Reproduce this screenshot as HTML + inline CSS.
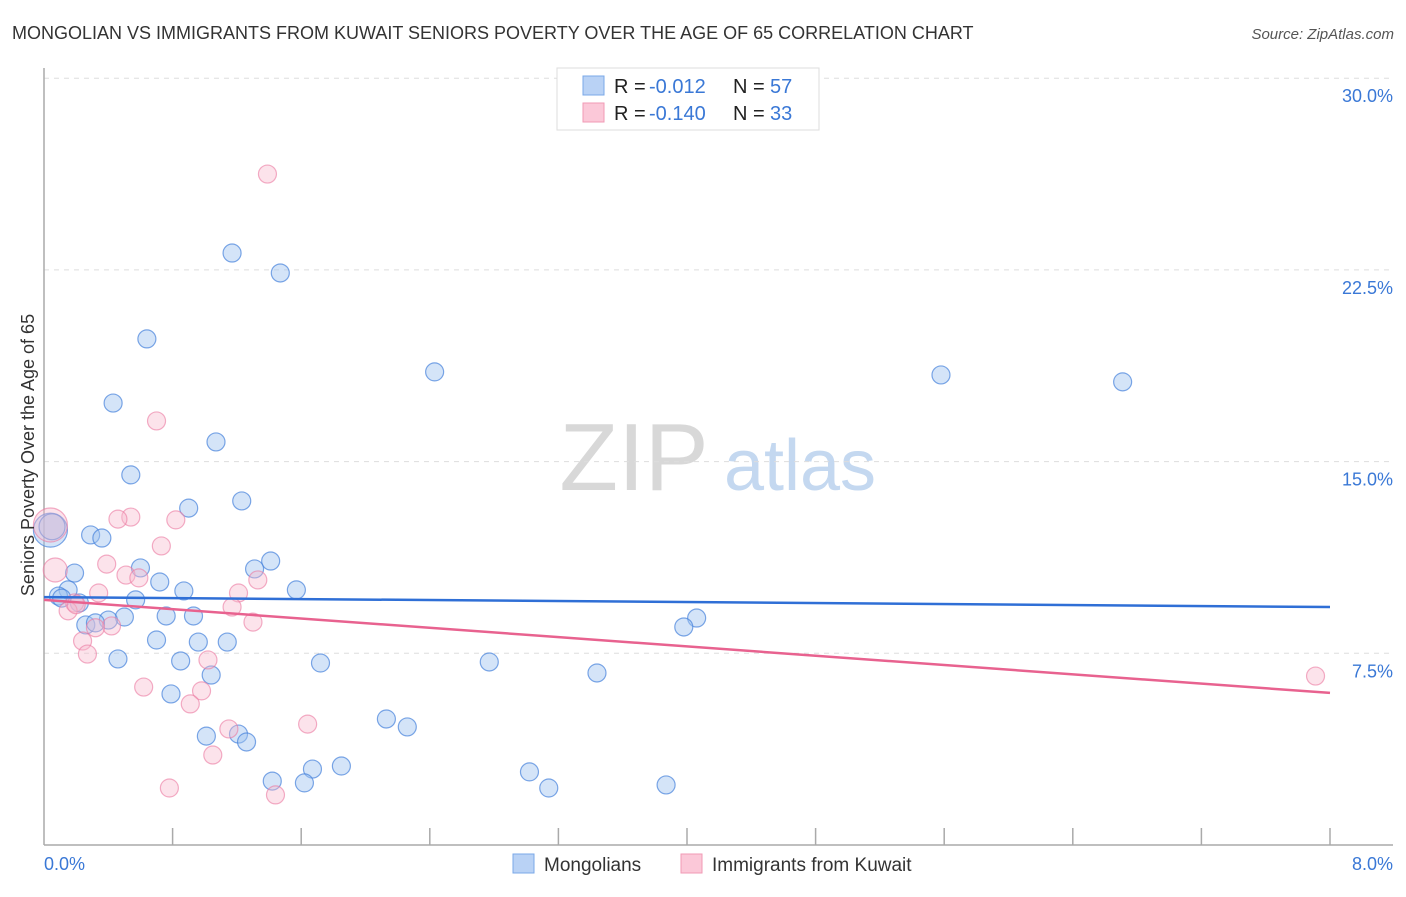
<!DOCTYPE html>
<html><head><meta charset="utf-8"><style>
body{margin:0;background:#fff;font-family:"Liberation Sans",sans-serif;}
svg text{font-family:"Liberation Sans",sans-serif;}
</style></head><body>
<svg id="chart" width="1406" height="892">
<text x="12" y="39" font-size="18" fill="#333">MONGOLIAN VS IMMIGRANTS FROM KUWAIT SENIORS POVERTY OVER THE AGE OF 65 CORRELATION CHART</text>
<text x="1394" y="39" font-size="15" fill="#555" font-style="italic" text-anchor="end">Source: ZipAtlas.com</text>
<g>
<text x="634" y="490" font-size="96" fill="#d8d8d8" text-anchor="middle" font-family="Liberation Serif">ZIP</text>
<text x="800" y="490" font-size="72" fill="#c4d8f0" text-anchor="middle">atlas</text>
</g>
<g id="grid"></g>
<g id="axes"></g>
<g id="marks"></g>
<g>
<rect x="557" y="68" width="262" height="62" fill="#fff" stroke="#ddd"/>
<rect x="583" y="76" width="21" height="19" fill="#b9d2f5" stroke="#7aa8e8"/>
<text x="614" y="93" font-size="20" fill="#222">R = </text><text x="649" y="93" font-size="20" fill="#3a78d6">-0.012</text>
<text x="733" y="93" font-size="20" fill="#222">N = </text><text x="770" y="93" font-size="20" fill="#3a78d6">57</text>
<rect x="583" y="103" width="21" height="19" fill="#fbc8d8" stroke="#f09ab5"/>
<text x="614" y="120" font-size="20" fill="#222">R = </text><text x="649" y="120" font-size="20" fill="#3a78d6">-0.140</text>
<text x="733" y="120" font-size="20" fill="#222">N = </text><text x="770" y="120" font-size="20" fill="#3a78d6">33</text>
</g>
<text transform="translate(34,455) rotate(-90)" font-size="18" fill="#333" text-anchor="middle">Seniors Poverty Over the Age of 65</text>
<text x="44" y="870" font-size="18" fill="#3a78d6">0.0%</text>
<text x="1393" y="870" font-size="18" fill="#3a78d6" text-anchor="end">8.0%</text>
<g>
<rect x="513" y="854" width="21" height="19" fill="#b9d2f5" stroke="#7aa8e8"/>
<text x="544" y="871" font-size="19" fill="#333">Mongolians</text>
<rect x="681" y="854" width="21" height="19" fill="#fbc8d8" stroke="#f09ab5"/>
<text x="712" y="871" font-size="19" fill="#333">Immigrants from Kuwait</text>
</g>
</svg>
<script>
const yTicks=[7.5,15,22.5,30];
const yTickLabels=["7.5%","15.0%","22.5%","30.0%"];
const xTicks=[0.8,1.6,2.4,3.2,4.0,4.8,5.6,6.4,7.2,8.0];
const blueX=[1.17,1.47,0.64,2.43,5.58,6.71,0.43,1.07,0.54,1.23,0.90,0.29,0.36,1.41,0.60,1.31,0.19,0.72,1.57,0.87,0.15,0.09,0.57,0.22,0.50,0.40,0.93,0.76,0.26,0.32,4.06,3.98,0.70,0.96,1.14,0.46,0.85,1.72,2.77,1.04,3.44,0.79,2.13,2.26,1.01,1.21,1.26,3.02,1.67,1.85,1.42,1.62,3.14,3.87,0.04,0.11,0.05];
const blueY=[23.16,22.38,19.80,18.51,18.39,18.12,17.29,15.77,14.48,13.46,13.18,12.13,12.01,11.11,10.84,10.80,10.64,10.29,9.98,9.94,9.98,9.74,9.59,9.47,8.92,8.80,8.96,8.96,8.61,8.69,8.88,8.53,8.02,7.94,7.94,7.28,7.20,7.12,7.16,6.65,6.73,5.91,4.93,4.62,4.26,4.34,4.03,2.86,2.97,3.09,2.50,2.43,2.23,2.35,12.32,9.66,12.45];
const blueSize=[9,9,9,9,9,9,9,9,9,9,9,9,9,9,9,9,9,9,9,9,9,9,9,9,9,9,9,9,9,9,9,9,9,9,9,9,9,9,9,9,9,9,9,9,9,9,9,9,9,9,9,9,9,9,17,9,13];
const pinkX=[1.39,0.70,0.54,0.46,0.82,0.73,0.39,0.51,0.59,0.34,1.21,1.33,0.19,0.07,1.17,0.15,1.30,0.42,0.24,0.27,1.02,0.62,0.98,0.91,1.15,1.64,1.05,0.78,1.44,7.91,0.04,0.32,0.20];
const pinkY=[26.25,16.59,12.83,12.75,12.72,11.70,10.99,10.56,10.45,9.86,9.86,10.37,9.47,10.76,9.31,9.16,8.72,8.57,7.98,7.47,7.24,6.18,6.03,5.52,4.54,4.73,3.52,2.23,1.96,6.61,12.52,8.50,9.40];
const pinkSize=[9,9,9,9,9,9,9,9,9,9,9,9,9,12,9,9,9,9,9,9,9,9,9,9,9,9,9,9,9,9,17,9,9];
const blueTrend=[9.70,9.31];
const pinkTrend=[9.59,5.95];
const xDomain=[0,8];

const X=v=>44+v/8*1286;
const Y=v=>845-v/7.5*191.7;
const NS="http://www.w3.org/2000/svg";
function mk(tag,attrs,parent){const e=document.createElementNS(NS,tag);for(const k in attrs)e.setAttribute(k,attrs[k]);document.getElementById(parent).appendChild(e);return e;}
yTicks.forEach((t,i)=>{
 const l=mk('line',{x1:44,x2:1393,y1:Y(t),y2:Y(t),stroke:'#ddd','stroke-dasharray':'5,5'},'grid');
 
 
 const tx=mk('text',{x:1393,y:Y(t)+24,'font-size':18,fill:'#3a78d6','text-anchor':'end'},'grid');
 tx.textContent=yTickLabels[i];
 
 
});
const ya=mk('line',{x1:44,x2:44,y1:68,y2:845,stroke:'#aaa','stroke-width':1.5},'axes');


const xa=mk('line',{x1:44,x2:1393,y1:845,y2:845,stroke:'#aaa','stroke-width':1.5},'axes');


xTicks.forEach(t=>{
 const l=mk('line',{x1:X(t),x2:X(t),y1:828,y2:845,stroke:'#aaa','stroke-width':1.5},'axes');
 
 
});
blueX.forEach((x,i)=>{
 const c=mk('circle',{cx:X(x),cy:Y(blueY[i]),r:blueSize[i],fill:'rgba(160,195,240,0.45)',stroke:'rgba(70,130,220,0.7)','stroke-width':1.2},'marks');
 
 
});
pinkX.forEach((x,i)=>{
 const c=mk('circle',{cx:X(x),cy:Y(pinkY[i]),r:pinkSize[i],fill:'rgba(248,185,205,0.4)',stroke:'rgba(235,120,160,0.6)','stroke-width':1.2},'marks');
 
 
});
const bl=mk('line',{x1:X(xDomain[0]),x2:X(xDomain[1]),y1:Y(blueTrend[0]),y2:Y(blueTrend[1]),stroke:'#2f6fd6','stroke-width':2.5},'marks');


const pl=mk('line',{x1:X(xDomain[0]),x2:X(xDomain[1]),y1:Y(pinkTrend[0]),y2:Y(pinkTrend[1]),stroke:'#e8628f','stroke-width':2.5},'marks');


</script>
</body></html>
